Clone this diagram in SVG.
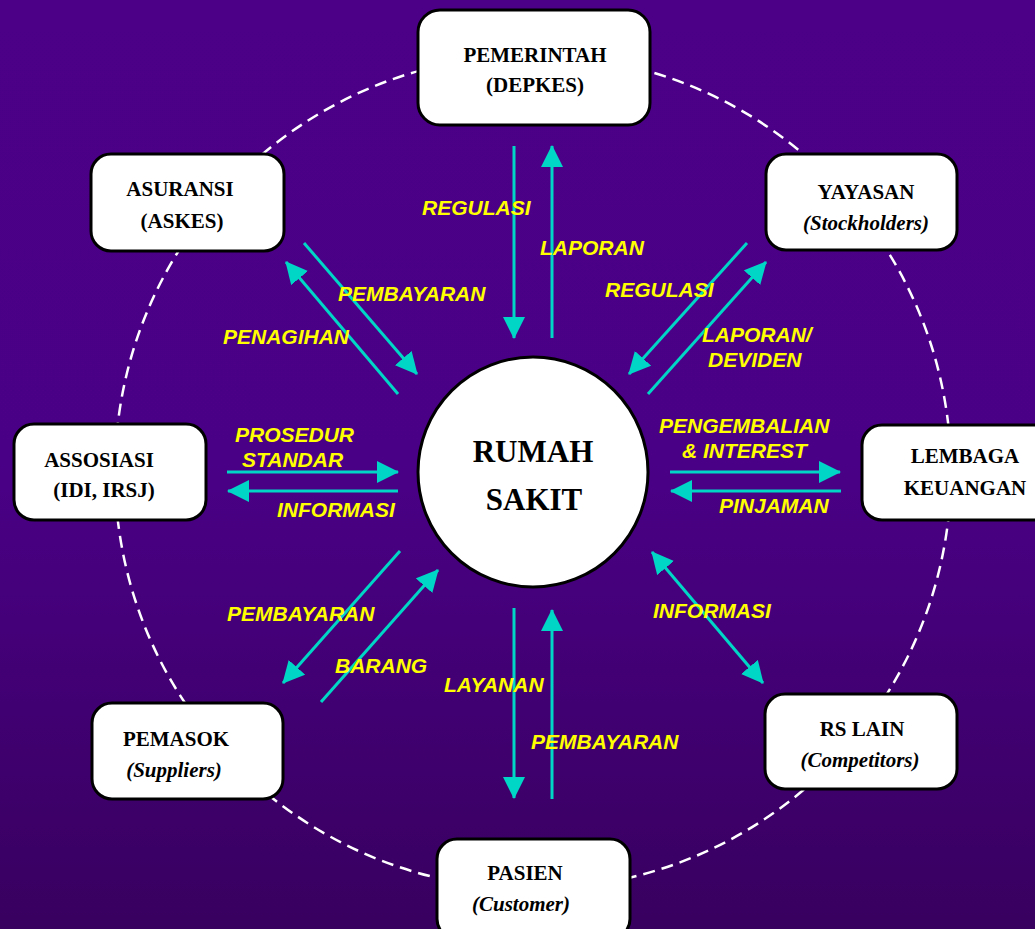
<svg xmlns="http://www.w3.org/2000/svg" width="1035" height="929" viewBox="0 0 1035 929">
<defs>
<linearGradient id="bg" x1="0" y1="0" x2="0" y2="1">
<stop offset="0" stop-color="#4B0087"/>
<stop offset="0.5" stop-color="#4A0086"/>
<stop offset="1" stop-color="#38005F"/>
</linearGradient>
<marker id="ah" viewBox="0 0 22 22" markerWidth="22" markerHeight="22" refX="21" refY="11" orient="auto-start-reverse" markerUnits="userSpaceOnUse">
<path d="M0,0 L22,11 L0,22 Z" fill="#00D6C6"/>
</marker>
<style>
.box{fill:#fff;stroke:#000;stroke-width:3}
.nt{font-family:"Liberation Serif","Times New Roman",serif;font-weight:bold;font-size:21px;fill:#000;text-anchor:middle}
.it{font-style:italic}
.lbl{font-family:"Liberation Sans",Arial,sans-serif;font-weight:bold;font-style:italic;font-size:21px;fill:#FFFF00}
.ar{stroke:#00D6C6;stroke-width:3;fill:none;marker-end:url(#ah)}
.ar2{stroke:#00D6C6;stroke-width:3;fill:none;marker-end:url(#ah);marker-start:url(#ah)}
</style>
</defs>
<rect x="0" y="0" width="1035" height="929" fill="url(#bg)"/>
<ellipse cx="533" cy="472" rx="418" ry="417" fill="none" stroke="#fff" stroke-width="2.5" stroke-dasharray="12 7"/>

<g id="connectors">
<line class="ar" x1="514" y1="146" x2="514" y2="338"/>
<line class="ar" x1="552" y1="338" x2="552" y2="146"/>
<line class="ar" x1="304" y1="243" x2="417" y2="374"/>
<line class="ar" x1="398" y1="394" x2="286" y2="262"/>
<line class="ar" x1="747" y1="243" x2="629" y2="374"/>
<line class="ar" x1="648" y1="394" x2="766" y2="262"/>
<line class="ar" x1="227" y1="472" x2="398" y2="472"/>
<line class="ar" x1="398" y1="491" x2="228" y2="491"/>
<line class="ar" x1="670" y1="472" x2="840" y2="472"/>
<line class="ar" x1="841" y1="491" x2="671" y2="491"/>
<line class="ar" x1="400" y1="551" x2="283" y2="683"/>
<line class="ar" x1="321" y1="702" x2="438" y2="570"/>
<line class="ar" x1="514" y1="608" x2="514" y2="798"/>
<line class="ar" x1="552" y1="799" x2="552" y2="610"/>
<line class="ar2" x1="652" y1="552" x2="763" y2="683"/>
</g>

<g id="labels">
<text class="lbl" x="422" y="215">REGULASI</text>
<text class="lbl" x="540" y="255">LAPORAN</text>
<text class="lbl" x="338" y="301">PEMBAYARAN</text>
<text class="lbl" x="223" y="344">PENAGIHAN</text>
<text class="lbl" x="605" y="297">REGULASI</text>
<text class="lbl" x="702" y="342">LAPORAN/</text>
<text class="lbl" x="708" y="367">DEVIDEN</text>
<text class="lbl" x="235" y="442">PROSEDUR</text>
<text class="lbl" x="242" y="467">STANDAR</text>
<text class="lbl" x="277" y="517">INFORMASI</text>
<text class="lbl" x="659" y="433">PENGEMBALIAN</text>
<text class="lbl" x="682" y="458">&amp; INTEREST</text>
<text class="lbl" x="719" y="513">PINJAMAN</text>
<text class="lbl" x="227" y="621">PEMBAYARAN</text>
<text class="lbl" x="335" y="673">BARANG</text>
<text class="lbl" x="444" y="692">LAYANAN</text>
<text class="lbl" x="531" y="749">PEMBAYARAN</text>
<text class="lbl" x="653" y="618">INFORMASI</text>
</g>

<g id="rumah-sakit">
<circle cx="533" cy="472" r="115" fill="#fff" stroke="#000" stroke-width="3"/>
<text class="nt" x="533" y="462" style="font-size:31px">RUMAH</text>
<text class="nt" x="534" y="510" style="font-size:31px">SAKIT</text>
</g>

<g id="pemerintah">
<rect class="box" x="418" y="10" width="232" height="115" rx="22"/>
<text class="nt" x="535" y="62">PEMERINTAH</text>
<text class="nt" x="535" y="92">(DEPKES)</text>
</g>

<g id="asuransi">
<rect class="box" x="91" y="154" width="193" height="97" rx="20"/>
<text class="nt" x="180" y="196">ASURANSI</text>
<text class="nt" x="182" y="228">(ASKES)</text>
</g>

<g id="yayasan">
<rect class="box" x="766" y="154" width="191" height="96" rx="20"/>
<text class="nt" x="866" y="199">YAYASAN</text>
<text class="nt it" x="866" y="230">(Stockholders)</text>
</g>

<g id="assosiasi">
<rect class="box" x="14" y="424" width="192" height="96" rx="20"/>
<text class="nt" x="99" y="467">ASSOSIASI</text>
<text class="nt" x="104" y="497">(IDI, IRSJ)</text>
</g>

<g id="lembaga-keuangan">
<rect class="box" x="862" y="425" width="192" height="95" rx="20"/>
<text class="nt" x="965" y="463">LEMBAGA</text>
<text class="nt" x="965" y="495">KEUANGAN</text>
</g>

<g id="pemasok">
<rect class="box" x="92" y="703" width="191" height="96" rx="20"/>
<text class="nt" x="176" y="746">PEMASOK</text>
<text class="nt it" x="174" y="777">(Suppliers)</text>
</g>

<g id="rs-lain">
<rect class="box" x="765" y="694" width="192" height="95" rx="20"/>
<text class="nt" x="862" y="736">RS LAIN</text>
<text class="nt it" x="860" y="767">(Competitors)</text>
</g>

<g id="pasien">
<rect class="box" x="437" y="839" width="193" height="100" rx="20"/>
<text class="nt" x="525" y="880">PASIEN</text>
<text class="nt it" x="521" y="911">(Customer)</text>
</g>
</svg>
